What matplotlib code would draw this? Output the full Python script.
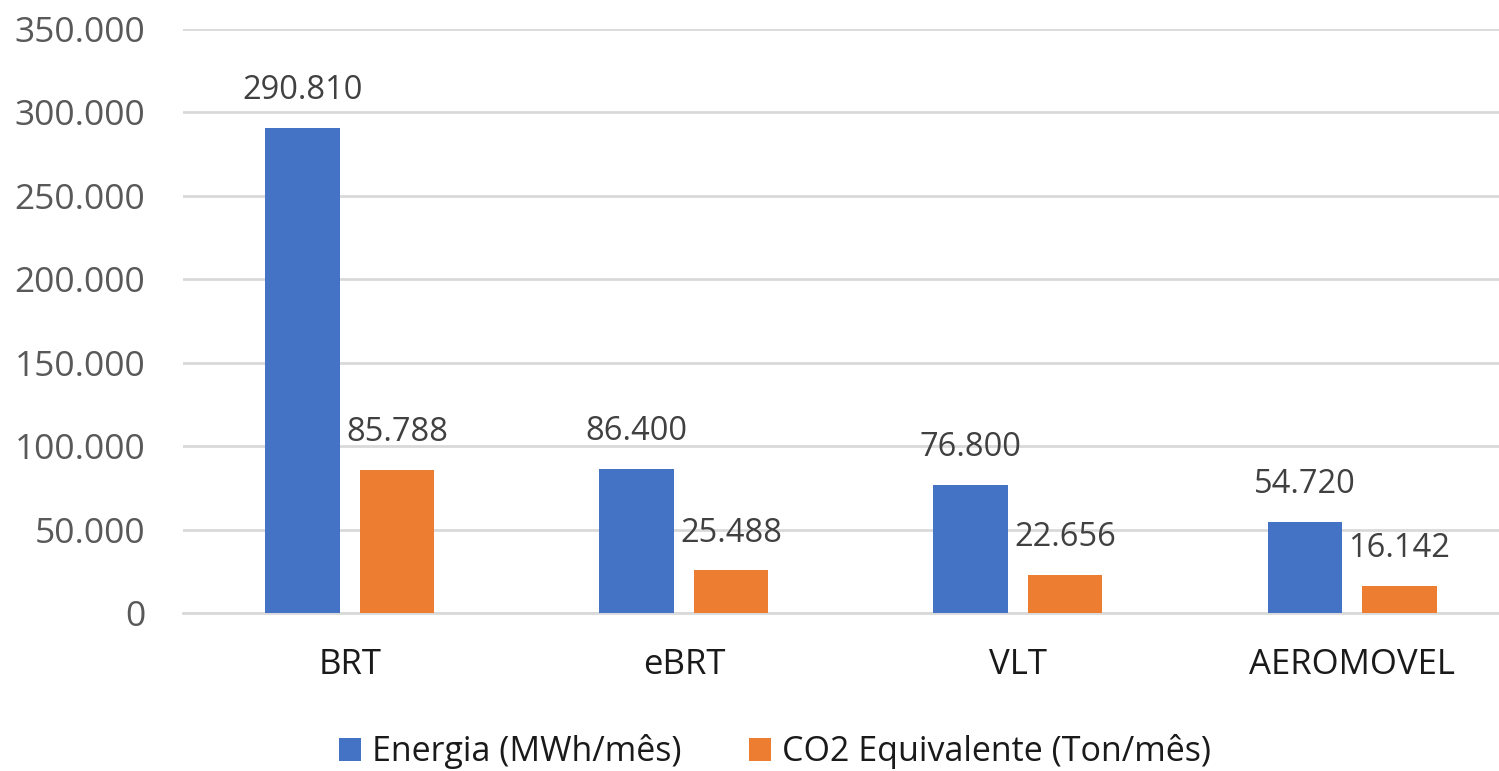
import matplotlib
matplotlib.use("Agg")
import matplotlib.pyplot as plt
import numpy as np
from matplotlib.ticker import FuncFormatter, MultipleLocator

categories = ["BRT", "eBRT", "VLT", "AEROMOVEL"]
energia = [290810, 86400, 76800, 54720]
co2 = [85788, 25488, 22656, 16142]
series_labels = ["Energia (MWh/mês)", "CO2 Equivalente (Ton/mês)"]

BLUE = "#4472C4"
ORANGE = "#ED7D31"
GRID = "#D9D9D9"
TICK_COLOR = "#595959"
LABEL_COLOR = "#404040"
DARK = "#1A1A1A"

plt.rcParams["font.family"] = ["Open Sans", "DejaVu Sans"]


def br_fmt(v):
    return f"{int(round(v)):,}".replace(",", ".")


fig = plt.figure(figsize=(14.99, 7.71), dpi=100)
ax = fig.add_axes([0.122, 0.2049, 0.878, 0.7575])

x = np.arange(len(categories))
width = 0.222
off = 0.142
b1 = ax.bar(x - off, energia, width, color=BLUE, label=series_labels[0], zorder=3)
b2 = ax.bar(x + off, co2, width, color=ORANGE, label=series_labels[1], zorder=3)

for bars, vals in ((b1, energia), (b2, co2)):
    for rect, v in zip(bars, vals):
        ax.annotate(br_fmt(v), (rect.get_x() + rect.get_width() / 2, v),
                    xytext=(0, 15), textcoords="offset points",
                    ha="center", va="bottom", fontsize=23.5, color=LABEL_COLOR)

ax.set_xlim(-0.5, 3.44)
ax.set_ylim(0, 350000)
ax.yaxis.set_major_locator(MultipleLocator(50000))
ax.yaxis.set_major_formatter(FuncFormatter(lambda v, p: br_fmt(v)))
ax.grid(True, axis="y", color=GRID, linewidth=2, zorder=0)
ax.set_axisbelow(True)

for s in ("top", "right", "left"):
    ax.spines[s].set_visible(False)
ax.spines["bottom"].set_color(GRID)
ax.spines["bottom"].set_linewidth(2)

ax.set_xticks(x)
ax.set_xticklabels(categories)
ax.tick_params(axis="x", length=0, pad=25, labelsize=25, labelcolor=DARK)
ax.tick_params(axis="y", length=0, pad=27, labelsize=25.5, labelcolor=TICK_COLOR)

fig.legend(loc="center", bbox_to_anchor=(0.517, 0.025), ncol=2, frameon=False,
           fontsize=24.5, handlelength=0.65, handleheight=0.65, handletextpad=0.3,
           columnspacing=2.0, labelcolor=DARK)

fig.savefig("out.png", dpi=100)
